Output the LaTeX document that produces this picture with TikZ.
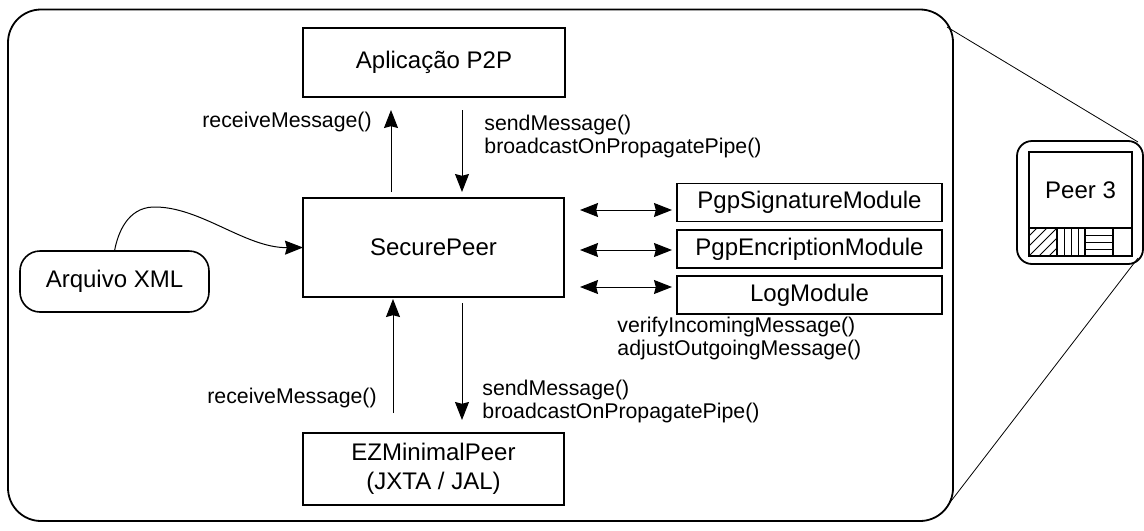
\documentclass[tikz,border=0pt]{standalone}
\usepackage{fontspec}
\setmainfont{Liberation Sans}
\usetikzlibrary{arrows.meta}
\tikzset{
  tip/.tip={Stealth[length=9pt,width=7pt,inset=0.9pt]},
  box/.style={draw, line width=0.8pt, inner sep=0pt, outer sep=0pt,
    font=\fontsize{12}{14.5}\selectfont, align=center},
  lbl/.style={inner sep=0pt, font=\fontsize{10.65}{11.5}\selectfont, align=left},
  conn/.style={line width=0.5pt, -tip},
  biconn/.style={line width=0.5pt, tip-tip},
  frame/.style={line width=0.9pt},
  thin/.style={line width=0.4pt}
}
\begin{document}
\begin{tikzpicture}[x=0.5pt, y=-0.5pt]
\useasboundingbox (0,0) rectangle (1144,530);

% enclosing peer frame
\draw[frame, rounded corners=16.5pt] (8,9.5) rectangle (953,521);

% main components
\node[box, minimum width=131pt, minimum height=34.5pt] (app) at (434,62.5) {Aplicação P2P};
\node[box, minimum width=130.5pt, minimum height=49.5pt] (sp) at (433.5,247.5) {SecurePeer};
\node[box, minimum width=130.5pt, minimum height=36pt] (ez) at (433.5,469) {EZMinimalPeer\\(JXTA / JAL)};
\node[box, rounded corners=10pt, minimum width=94.5pt, minimum height=30.5pt] (xml) at (114.5,281.5) {Arquivo XML};

% plug-in modules
\node[box, minimum width=132.5pt, minimum height=19pt] (m1) at (809.5,202.5) {PgpSignatureModule};
\node[box, minimum width=132.5pt, minimum height=19pt] (m2) at (809.5,249) {PgpEncriptionModule};
\node[box, minimum width=132.5pt, minimum height=19pt] (m3) at (809.5,295) {LogModule};

% message flow between layers
\coordinate (upA0) at (391,192);  \coordinate (upA1) at (391,110);
\coordinate (dnA0) at (462,110);  \coordinate (dnA1) at (462,192);
\coordinate (upB0) at (393,413);  \coordinate (upB1) at (393,299);
\coordinate (dnB0) at (462,303);  \coordinate (dnB1) at (462,420);
\draw[conn] (upA0) -- (upA1);
\draw[conn] (dnA0) -- (dnA1);
\draw[conn] (upB0) -- (upB1);
\draw[conn] (dnB0) -- (dnB1);

\node[lbl, anchor=west] (rcvA) at (202,122) {receiveMessage()};
\node[lbl, anchor=west] (sndA) at (484,136.5) {sendMessage()\\broadcastOnPropagatePipe()};
\node[lbl, anchor=west] (rcvB) at (207,398) {receiveMessage()};
\node[lbl, anchor=west] (sndB) at (482,401.5) {sendMessage()\\broadcastOnPropagatePipe()};
\node[lbl, anchor=west] (mods) at (617,338.5) {verifyIncomingMessage()\\adjustOutgoingMessage()};

% links to modules
\coordinate (l1) at (580,210); \coordinate (r1) at (672,210);
\coordinate (l2) at (580,250); \coordinate (r2) at (672,250);
\coordinate (l3) at (580,287); \coordinate (r3) at (672,287);
\draw[biconn] (l1) -- (r1);
\draw[biconn] (l2) -- (r2);
\draw[biconn] (l3) -- (r3);

% configuration file feeding SecurePeer
\draw[conn] (xml.north) .. controls (118,232) and (128,208) .. (153,207)
  .. controls (200,206) and (245,248) .. (sp.west);

% magnified peer icon
\draw[frame, rounded corners=7.5pt] (1017,141) rectangle (1143,264);
\node[box, line width=0.6pt, minimum width=51.5pt, minimum height=38pt] (peer) at (1080.5,190) {Peer 3};
\draw[line width=0.6pt] (1029,228) rectangle (1132,256);
\draw[line width=0.6pt] (1057,228) -- (1057,256) (1085,228) -- (1085,256) (1113,228) -- (1113,256);
\begin{scope}
  \clip (1029,228) rectangle (1057,256);
  \foreach \k in {-30,-20,...,30} \draw[thin] (1029+\k,256) -- (1057+\k,228);
\end{scope}
\foreach \k in {1064,1071,1078} \draw[thin] (\k,228) -- (\k,256);
\foreach \k in {235,242,249} \draw[thin] (1085,\k) -- (1113,\k);

% zoom lines
\coordinate (zt0) at (947,27);  \coordinate (zt1) at (1138,142);
\coordinate (zb0) at (948,505); \coordinate (zb1) at (1138,258);
\draw[thin] (zt0) -- (zt1);
\draw[thin] (zb0) -- (zb1);
\end{tikzpicture}
\end{document}
